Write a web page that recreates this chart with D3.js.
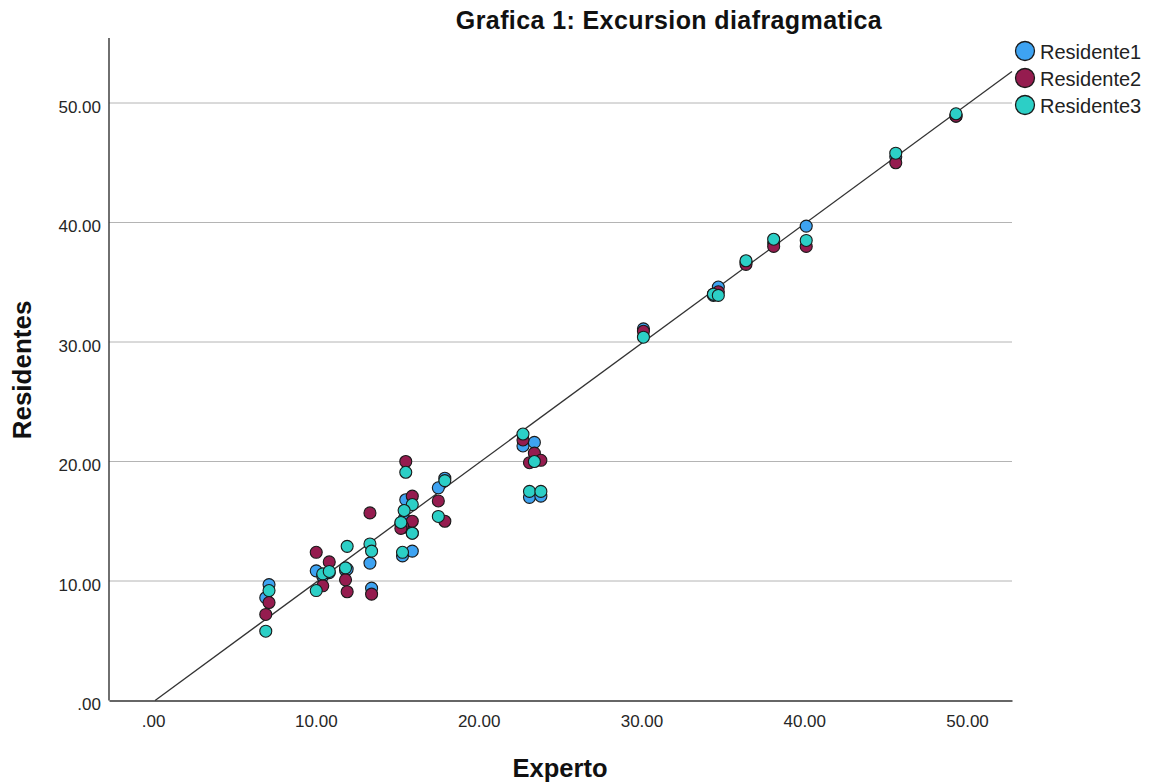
<!DOCTYPE html>
<html>
<head>
<meta charset="utf-8">
<script src="https://cdn.jsdelivr.net/npm/d3@7"></script>
<style>
  body { margin: 0; background: #fff; }
  svg { font-family: "Liberation Sans", Arial, sans-serif; }
</style>
</head>
<body>
<svg width="1153" height="783"></svg>
<script>
'use strict'

// values, one entry per patient
const experto    = [7.0, 6.8, 9.9, 10.3, 10.7, 11.7, 11.8, 13.2, 13.3, 15.4, 15.8, 15.3, 15.8, 15.2, 15.1, 17.4, 17.8, 22.6, 23.3, 23.0, 23.7, 30.0, 34.3, 34.6, 36.3, 38.0, 40.0, 45.5, 49.2];
const residente1 = [9.7, 8.6, 10.85, 10.4, 10.7, 10.9, 11.0, 11.5, 9.4, 16.8, 14.0, 15.2, 12.5, 12.1, 14.8, 17.8, 18.6, 21.3, 21.6, 17.0, 17.1, 31.1, 33.9, 34.6, 36.7, 38.3, 39.7, 45.5, 48.9];
const residente2 = [8.2, 7.2, 12.4, 9.6, 11.6, 10.1, 9.1, 15.7, 8.9, 20.0, 17.1, 14.5, 15.0, 14.6, 14.4, 16.7, 15.0, 21.8, 20.7, 19.9, 20.1, 30.9, 34.0, 34.2, 36.5, 38.0, 38.0, 45.0, 48.9];
const residente3 = [9.2, 5.8, 9.2, 10.6, 10.8, 11.1, 12.9, 13.1, 12.5, 19.1, 16.4, 15.9, 14.0, 12.4, 14.9, 15.4, 18.4, 22.3, 20.0, 17.5, 17.5, 30.4, 34.0, 33.9, 36.8, 38.6, 38.5, 45.8, 49.1];

const seriesNames = ['Residente1', 'Residente2', 'Residente3'];
const seriesColors = ['#3ea3f2', '#951c4f', '#2ccfc6'];
const xTicks = [0, 10, 20, 30, 40, 50];
const yTicks = [0, 10, 20, 30, 40, 50];

const svg = d3.select('svg');

const x = d3.scaleLinear().domain([-2.83, 52.64]).range([109, 1012]);
const y = d3.scaleLinear().domain([0, 55.44]).range([700.5, 38]);

const fmt = v => v === 0 ? '.00' : d3.format('.2f')(v);

// horizontal grid
svg.append('g')
  .selectAll('line')
  .data(yTicks.filter(d => d > 0))
  .join('line')
  .attr('x1', x.range()[0])
  .attr('x2', x.range()[1])
  .attr('y1', d => y(d))
  .attr('y2', d => y(d))
  .attr('stroke', '#b4b4b4')
  .attr('stroke-width', 1);

// axes
const xAxis = svg.append('g')
  .attr('transform', `translate(0,${y(0)})`)
  .call(d3.axisBottom(x).tickValues(xTicks).tickFormat(fmt).tickSize(0).tickPadding(14));
const yAxis = svg.append('g')
  .attr('transform', `translate(${x.range()[0]},0)`)
  .call(d3.axisLeft(y).tickValues(yTicks).tickFormat(fmt).tickSize(0).tickPadding(8));

[xAxis, yAxis].forEach(a => {
  a.select('.domain').attr('stroke', '#333').attr('stroke-width', 1.4);
  a.selectAll('text')
    .attr('font-family', '"Liberation Sans", Arial, sans-serif')
    .attr('font-size', 17)
    .attr('fill', '#262626');
});
yAxis.selectAll('text').attr('dy', '0.55em');
xAxis.selectAll('text').attr('dx', '-2');
yAxis.select('.domain').attr('d', `M0,${y.range()[1]}V${y(0)}`);

// identity reference line
const lineEnd = x.domain()[1];
svg.append('line')
  .attr('x1', x(0))
  .attr('y1', y(0))
  .attr('x2', x(lineEnd))
  .attr('y2', y(lineEnd))
  .attr('stroke', '#333')
  .attr('stroke-width', 1.3);

// points
const allSeries = [residente1, residente2, residente3];
allSeries.forEach((vals, i) => {
  svg.append('g')
    .selectAll('circle')
    .data(vals.map((v, j) => ({ ex: experto[j], v: v })))
    .join('circle')
    .attr('cx', d => x(d.ex))
    .attr('cy', d => y(d.v))
    .attr('r', 6)
    .attr('fill', seriesColors[i])
    .attr('stroke', '#1a1a1a')
    .attr('stroke-width', 1.1);
});

// legend
const legend = svg.append('g')
  .selectAll('g')
  .data(seriesNames)
  .join('g')
  .attr('transform', (d, i) => `translate(1025,${51 + i * 27})`);
legend.append('circle')
  .attr('r', 9.5)
  .attr('fill', (d, i) => seriesColors[i])
  .attr('stroke', '#1a1a1a')
  .attr('stroke-width', 1.3);
legend.append('text')
  .attr('x', 15)
  .attr('y', 8)
  .attr('font-size', 20)
  .attr('fill', '#222')
  .text(d => d);

// titles
svg.append('text')
  .attr('x', 669)
  .attr('y', 29)
  .attr('text-anchor', 'middle')
  .attr('font-size', 25)
  .attr('font-weight', 'bold')
  .attr('letter-spacing', 0.4)
  .attr('fill', '#111')
  .text('Grafica 1: Excursion diafragmatica');

svg.append('text')
  .attr('x', 560)
  .attr('y', 777)
  .attr('text-anchor', 'middle')
  .attr('font-size', 25.5)
  .attr('font-weight', 'bold')
  .attr('fill', '#111')
  .text('Experto');

svg.append('text')
  .attr('transform', 'translate(31,370) rotate(-90)')
  .attr('text-anchor', 'middle')
  .attr('font-size', 26)
  .attr('font-weight', 'bold')
  .attr('fill', '#111')
  .text('Residentes');
</script>
</body>
</html>
